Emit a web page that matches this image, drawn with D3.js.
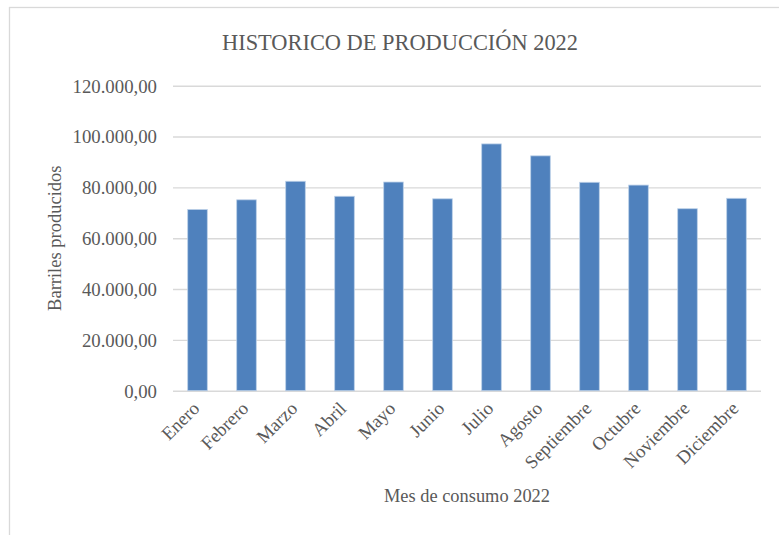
<!DOCTYPE html>
<html>
<head>
<meta charset="utf-8">
<script src="https://cdn.jsdelivr.net/npm/d3@7"></script>
<style>
  html, body { margin: 0; padding: 0; background: #fff; }
  svg { display: block; }
  svg text { font-family: "Liberation Serif", "Times New Roman", serif; }
</style>
</head>
<body>
<script>
const categories = ["Enero","Febrero","Marzo","Abril","Mayo","Junio","Julio","Agosto","Septiembre","Octubre","Noviembre","Diciembre"];
const values = [71300, 75100, 82400, 76500, 82100, 75500, 97100, 92400, 82000, 80900, 71600, 75700];
const yTicks = [0, 20000, 40000, 60000, 80000, 100000, 120000];
const chartTitle = "HISTORICO DE PRODUCCIÓN 2022";
const xTitle = "Mes de consumo 2022";
const yTitle = "Barriles producidos";

const W = 779, H = 535;
const plotLeft = 173, plotRight = 761, plotTop = 85.7, plotBottom = 390.7;
const font = "'Liberation Serif', 'Times New Roman', serif";
const textColor = "#595959";

const svg = d3.select("body").append("svg").attr("width", W).attr("height", H);

// chart border
svg.append("rect").attr("x", 9.5).attr("y", 7.5).attr("width", W).attr("height", H)
  .attr("fill", "none").attr("stroke", "#d9d9d9").attr("stroke-width", 1.3);

const x = d3.scaleBand().domain(categories).range([plotLeft, plotRight]).paddingInner(0.6).paddingOuter(0.3);
const y = d3.scaleLinear().domain([0, 120000]).range([plotBottom, plotTop]);

const fmt = v => d3.format(",.2f")(v).replace(/,/g, "X").replace(/\./g, ",").replace(/X/g, ".");

// gridlines + y tick labels
const yAxis = d3.axisLeft(y).tickValues(yTicks).tickSize(-(plotRight - plotLeft)).tickFormat(fmt).tickPadding(16);
const gy = svg.append("g").attr("transform", `translate(${plotLeft},0)`).call(yAxis);
gy.attr("font-family", null).attr("font-size", null);
gy.select(".domain").remove();
gy.selectAll(".tick line").attr("stroke", "#d9d9d9").attr("stroke-width", 1.4);
gy.selectAll(".tick text").attr("fill", textColor).style("font-family", font).style("font-size", "18.8px").attr("dy", "0.34em");

// bars
svg.append("g").selectAll("rect").data(values).join("rect")
  .attr("x", (d, i) => x(categories[i]))
  .attr("y", d => y(d))
  .attr("width", x.bandwidth())
  .attr("height", d => y(0) - y(d))
  .attr("fill", "#4f81bd")
  .attr("stroke", "#bcd0e8")
  .attr("stroke-width", 0.8);

// x axis labels
const xAxis = d3.axisBottom(x).tickSize(0).tickPadding(0);
const gx = svg.append("g").attr("transform", `translate(0,${plotBottom})`).call(xAxis);
gx.attr("font-family", null).attr("font-size", null);
gx.select(".domain").remove();
gx.selectAll(".tick text")
  .attr("fill", textColor).style("font-family", font).style("font-size", "18.7px")
  .attr("text-anchor", "end")
  .attr("y", 0).attr("dy", 0)
  .attr("transform", "translate(3,19) rotate(-45)");

// title
svg.append("text").attr("x", 400).attr("y", 50).attr("text-anchor", "middle")
  .style("font-family", font).style("font-size", "22.4px").attr("fill", textColor).text(chartTitle);

// axis titles
svg.append("text").attr("x", (plotLeft + plotRight) / 2).attr("y", 502).attr("text-anchor", "middle")
  .style("font-family", font).style("font-size", "18.4px").attr("fill", textColor).text(xTitle);

svg.append("text").attr("transform", `translate(61,${(plotTop + plotBottom) / 2}) rotate(-90)`)
  .attr("text-anchor", "middle")
  .style("font-family", font).style("font-size", "18.5px").attr("fill", textColor).text(yTitle);
</script>
</body>
</html>
